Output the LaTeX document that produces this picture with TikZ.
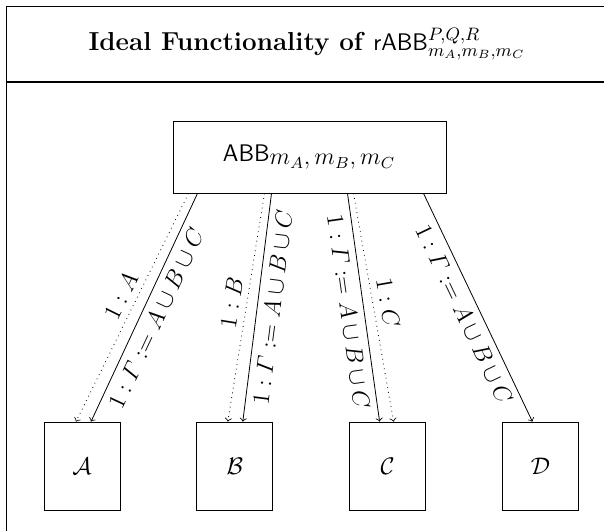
\documentclass[tikz,border=0pt]{standalone}
\usepackage{amsmath}
\usetikzlibrary{positioning}

\tikzset{
  party/.style={draw, minimum width=38pt, minimum height=44pt, inner sep=0pt, font=\large},
  functionality/.style={draw, minimum width=136.5pt, minimum height=36pt, font=\large},
  msg/.style={->, dotted},
  bcast/.style={->},
  lbl/.style={sloped, font=\large}
}

\begin{document}
\begin{tikzpicture}[x=0.5pt, y=-0.5pt]
    \useasboundingbox (0,0) rectangle (604,531);
    % frame
    \draw (6,531) -- (6,6) -- (604,6);
    \draw[thick] (6,82) -- (604,82);
    \node (title) at (307,44) {\fontsize{13}{16}\selectfont\textbf{Ideal Functionality of} $\mathsf{rABB}^{P,Q,R}_{m_A,m_B,m_C}$};

    \node[functionality] (abb) at (309.5,157) {$\mathsf{ABB}_{\textstyle m_A,m_B,m_C}$};

    \node[party] (a) at (82,466) {$\mathcal{A}$};
    \node[party, right=38pt of a] (b) {$\mathcal{B}$};
    \node[party, right=38pt of b] (c) {$\mathcal{C}$};
    \node[party, right=38pt of c] (d) {$\mathcal{D}$};

    \draw[msg] ([xshift=-60.5pt]abb.south) -- ([xshift=-3pt]a.north) node[lbl, pos=0.48, above] {$1: A$};
    \draw[bcast] ([xshift=-56pt]abb.south) -- ([xshift=4.5pt]a.north) node[lbl, pos=0.52, below] {$1: \varGamma := A \cup B \cup C$};
    \draw[msg] ([xshift=-22.5pt]abb.south) -- ([xshift=-3.5pt]b.north) node[lbl, pos=0.49, above] {$1: B$};
    \draw[bcast] ([xshift=-19pt]abb.south) -- ([xshift=4pt]b.north) node[lbl, pos=0.49, below] {$1: \varGamma := A \cup B \cup C$};
    \draw[bcast] ([xshift=19pt]abb.south) -- ([xshift=-4pt]c.north) node[lbl, pos=0.51, below] {$1: \varGamma := A \cup B \cup C$};
    \draw[msg] ([xshift=22pt]abb.south) -- ([xshift=3pt]c.north) node[lbl, pos=0.49, above] {$1: C$};
    \draw[bcast] ([xshift=57pt]abb.south) -- ([xshift=-4pt]d.north) node[lbl, pos=0.5, below] {$1: \varGamma := A \cup B \cup C$};
\end{tikzpicture}
\end{document}
